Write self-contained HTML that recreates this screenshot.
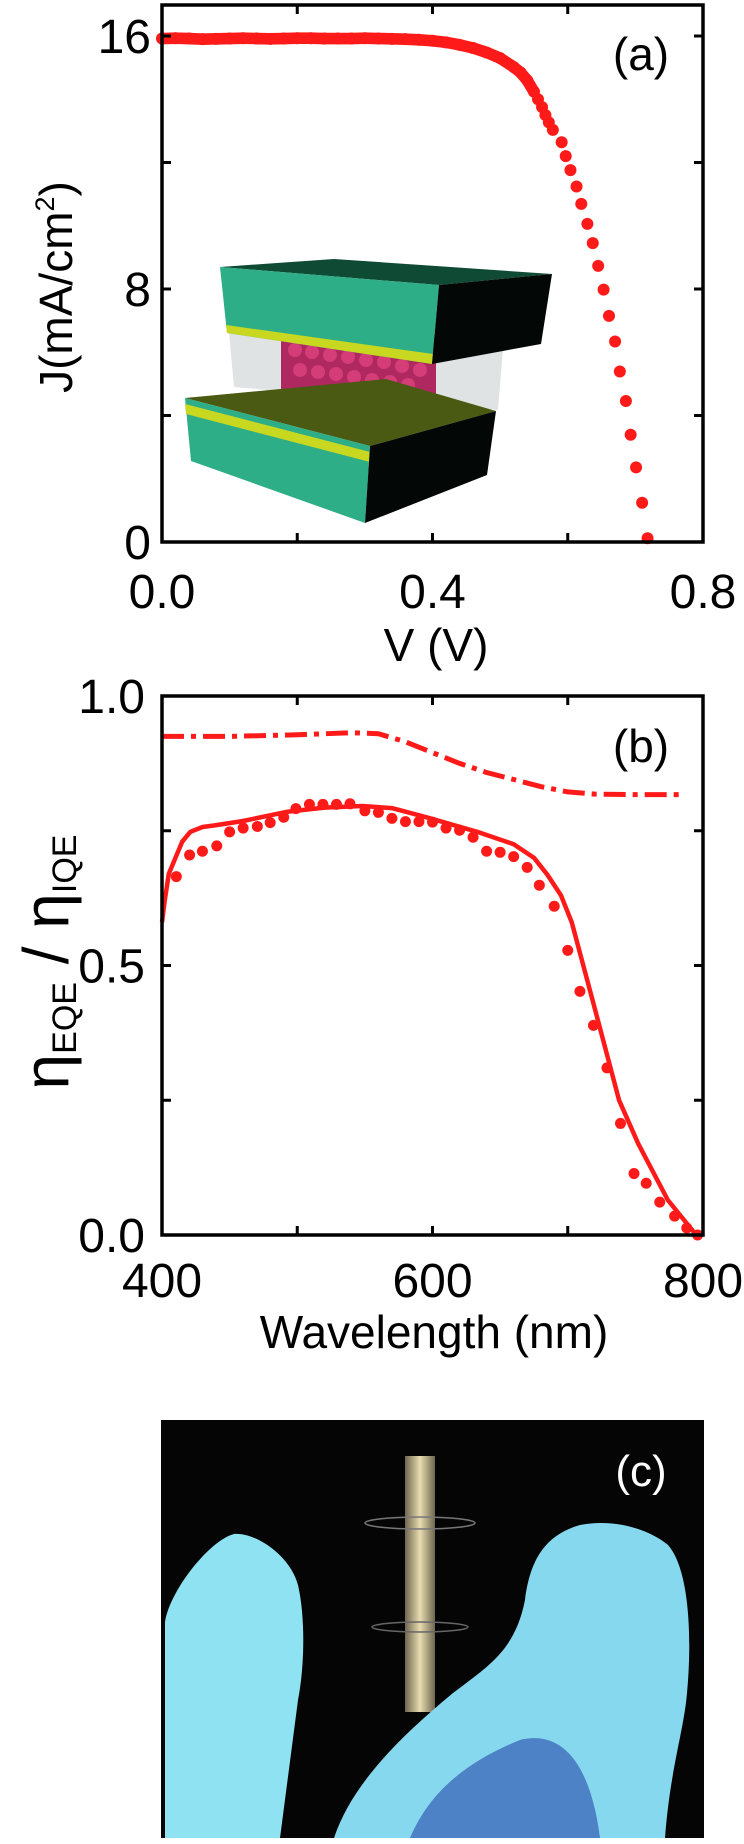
<!DOCTYPE html>
<html><head><meta charset="utf-8"><style>
html,body{margin:0;padding:0;background:#fff;}
svg{display:block;font-family:"Liberation Sans",Arial,sans-serif;}
</style></head><body>
<svg id="fig" width="744" height="1844" viewBox="0 0 744 1844" xmlns="http://www.w3.org/2000/svg">
<defs>
<linearGradient id="rod" x1="0" x2="1" y1="0" y2="0"><stop offset="0" stop-color="#6e6650"/><stop offset="0.5" stop-color="#e8dcb0"/><stop offset="1" stop-color="#6e6650"/></linearGradient>
</defs>
<g id="inset">
<polygon points="229,333 503,349 498,410 234,387" fill="#d8dcdc" opacity="0.8"/>
<rect x="281" y="337" width="155" height="73" fill="#b02860"/>
<g fill="#d8407a" opacity="0.9">
<circle cx="295" cy="350" r="7"/><circle cx="312" cy="352" r="7"/><circle cx="330" cy="355" r="7"/><circle cx="348" cy="357" r="7"/><circle cx="366" cy="360" r="7"/><circle cx="384" cy="362" r="7"/><circle cx="402" cy="366" r="7"/><circle cx="420" cy="370" r="7"/>
<circle cx="300" cy="370" r="7"/><circle cx="318" cy="372" r="7"/><circle cx="336" cy="374" r="7"/><circle cx="354" cy="377" r="7"/><circle cx="372" cy="380" r="7"/><circle cx="390" cy="382" r="7"/><circle cx="408" cy="385" r="7"/>
</g>
<g fill="#4a1020"><circle cx="300" cy="395" r="6"/><circle cx="320" cy="398" r="6"/><circle cx="340" cy="400" r="6"/><circle cx="360" cy="402" r="6"/><circle cx="380" cy="404" r="6"/><circle cx="400" cy="404" r="6"/><circle cx="420" cy="403" r="6"/></g>
<polygon points="220,267 334,259 552,274 439,285" fill="#0e4a34"/>
<polygon points="220,267 439,285 432,364 227,333" fill="#2eae86"/>
<polygon points="226,325 433,354 432,364 227,333" fill="#c8d820"/>
<polygon points="439,285 552,274 541,344 432,364" fill="#030806"/>
<polygon points="185,398 386,379 496,411 370,446" fill="#4a5a12"/>
<polygon points="185,398 370,446 365,523 191,461" fill="#2eae86"/>
<polygon points="185,404 370,452 370,462 186,414" fill="#c8d820"/>
<polygon points="370,446 496,411 487,475 365,523" fill="#030806"/>
</g>
<g id="pa"></g>
<g id="pb"></g>
<g id="photo">
<rect x="161" y="1420" width="543" height="418" fill="#050505"/>
<rect x="405" y="1456" width="30" height="256" fill="url(#rod)"/>
<ellipse cx="420" cy="1523" rx="55" ry="6" fill="none" stroke="#777" stroke-width="1.5"/>
<ellipse cx="420" cy="1627" rx="48" ry="5" fill="none" stroke="#666" stroke-width="1.5"/>
<path d="M165,1622 C170,1590 210,1540 234,1534 C255,1532 290,1555 298,1585 C306,1620 304,1670 298,1700 L280,1838 L165,1838 Z" fill="#8fe2f2"/>
<path d="M334,1838 C350,1790 390,1745 453,1693 C490,1665 515,1650 525,1600 C530,1560 545,1535 580,1525 C615,1518 650,1530 668,1545 C690,1570 692,1640 687,1693 C684,1730 670,1770 665,1838 Z" fill="#86d8ee"/>
<path d="M410,1838 C430,1790 470,1760 520,1740 C560,1730 590,1760 600,1838 Z" fill="#3a66b8" opacity="0.75"/>
<text x="641" y="1486" font-size="44" fill="#fff" text-anchor="middle">(c)</text>
</g>
</svg>
<script>
// Panel (a) data
const jvV = [0,0.02,0.04,0.06,0.08,0.10,0.12,0.14,0.16,0.18,0.20,0.22,0.24,0.26,0.28,0.30,0.32,0.34,0.36,0.38,0.40,0.42,0.44,0.46,0.48,0.50,0.52,0.53,0.54,0.55,0.556,0.562,0.567,0.572,0.578,0.591,0.597,0.604,0.613,0.620,0.629,0.637,0.645,0.653,0.661,0.670,0.677,0.686,0.693,0.701,0.710,0.718];
const jvJ = [15.92,15.93,15.92,15.90,15.91,15.92,15.93,15.92,15.91,15.92,15.93,15.93,15.92,15.92,15.92,15.93,15.92,15.91,15.90,15.88,15.85,15.80,15.72,15.62,15.48,15.30,15.02,14.85,14.6,14.24,14.0,13.75,13.5,13.27,13.03,12.64,12.2,11.76,11.24,10.69,10.06,9.45,8.73,7.98,7.15,6.34,5.39,4.46,3.39,2.36,1.24,0.12];
const aXTicks = ["0.0","0.4","0.8"];
const aXTickVals = [0,0.4,0.8];
const aYTicks = ["0","8","16"];
const aYTickVals = [0,8,16];
// Panel (b) data
const iqeL = [400,450,500,540,560,580,600,620,640,660,680,700,720,750,785];
const iqeV = [0.925,0.925,0.928,0.932,0.93,0.915,0.895,0.875,0.858,0.845,0.832,0.822,0.818,0.817,0.817];
const fitL = [400,402,405,410,415,421,430,439,460,492,520,548,570,597,633,660,675,685,695,703,720,738,752,774,795];
const fitV = [0.58,0.62,0.67,0.70,0.73,0.748,0.757,0.76,0.768,0.785,0.793,0.796,0.792,0.774,0.748,0.725,0.70,0.668,0.63,0.58,0.42,0.25,0.17,0.065,0.0];
const eqeL = [410.6,420.4,429.9,440.5,450,460,470.5,480,490,499,509,519,529,539,550,560,570,580,590,600,610,620,630,640,650,660,670,679,690,700,709,719,729,739,749,758,768,779,788,796];
const eqeV = [0.665,0.705,0.712,0.722,0.748,0.755,0.758,0.765,0.775,0.791,0.799,0.799,0.799,0.800,0.787,0.784,0.773,0.767,0.767,0.766,0.755,0.751,0.738,0.712,0.710,0.702,0.682,0.649,0.610,0.528,0.452,0.389,0.31,0.207,0.114,0.096,0.061,0.035,0.013,0.0];
const bXTicks = ["400","600","800"];
const bXTickVals = [400,600,800];
const bYTicks = ["0.0","0.5","1.0"];
const bYTickVals = [0,0.5,1.0];

const NS="http://www.w3.org/2000/svg";
function mk(parent,tag,attrs){const el=document.createElementNS(NS,tag);for(const k in attrs)el.setAttribute(k,attrs[k]);parent.appendChild(el);return el;}
const RED="#ff1a1a";

// ---- Panel a ----
const pa=document.getElementById('pa');
const ax={l:162,r:703,t:5,b:542};
const axX=v=>ax.l+v/0.8*(ax.r-ax.l);
const ayY=v=>542-(v/16)*(542-36);
for(let i=0;i<29;i++){
  const ln=mk(pa,'line',{x1:axX(jvV[i]),y1:ayY(jvJ[i]),x2:axX(jvV[i+1]),y2:ayY(jvJ[i+1]),stroke:RED,"stroke-width":11.6,"stroke-linecap":"round"});
  
  
}
for(let i=0;i<jvV.length;i++){
  const c=mk(pa,'circle',{cx:axX(jvV[i]),cy:ayY(jvJ[i]),r:6,fill:RED});
  
  
}
const fa=mk(pa,'rect',{x:ax.l,y:ax.t,width:ax.r-ax.l,height:ax.b-ax.t,fill:"none",stroke:"#000","stroke-width":3.5});


[0,0.2,0.4,0.6,0.8].forEach(v=>{
  mk(pa,'line',{x1:axX(v),x2:axX(v),y1:ax.b,y2:ax.b-9,stroke:"#000","stroke-width":3});
  mk(pa,'line',{x1:axX(v),x2:axX(v),y1:ax.t,y2:ax.t+9,stroke:"#000","stroke-width":3});
});
[0,4,8,12,16].forEach(v=>{
  mk(pa,'line',{x1:ax.l,x2:ax.l+9,y1:ayY(v),y2:ayY(v),stroke:"#000","stroke-width":3});
  mk(pa,'line',{x1:ax.r,x2:ax.r-9,y1:ayY(v),y2:ayY(v),stroke:"#000","stroke-width":3});
});
aXTicks.forEach((t,i)=>{
  const el=mk(pa,'text',{x:axX(aXTickVals[i]),y:608,"font-size":48,"text-anchor":"middle"});el.textContent=t;
  
  
});
aYTicks.forEach((t,i)=>{
  const el=mk(pa,'text',{x:151,y:ayY(aYTickVals[i])+17,"font-size":48,"text-anchor":"end"});el.textContent=t;
  
  
});
let t1=mk(pa,'text',{x:436,y:661,"font-size":46,"text-anchor":"middle"});t1.textContent="V (V)";


t1=mk(pa,'text',{x:0,y:0,"font-size":46,"text-anchor":"middle",transform:"translate(72,287) rotate(-90)"});
t1.innerHTML='J(mA/cm<tspan font-size="27" dy="-18">2</tspan><tspan dy="18">)</tspan>';


t1=mk(pa,'text',{x:641,y:70,"font-size":46,"text-anchor":"middle"});t1.textContent="(a)";



// ---- Panel b ----
const pb=document.getElementById('pb');
const bx={l:162,r:703,t:696,b:1235};
const bX=v=>bx.l+(v-400)/400*(bx.r-bx.l);
const bY=v=>bx.b-v*(bx.b-bx.t);
let d=iqeL.map((l,i)=>(i?'L':'M')+bX(l).toFixed(1)+','+bY(iqeV[i]).toFixed(1)).join(' ');
let p=mk(pb,'path',{d:d,fill:"none",stroke:RED,"stroke-width":5,"stroke-dasharray":"22,7,5,7"});


d=fitL.map((l,i)=>(i?'L':'M')+bX(l).toFixed(1)+','+bY(fitV[i]).toFixed(1)).join(' ');
p=mk(pb,'path',{d:d,fill:"none",stroke:RED,"stroke-width":4.5,"stroke-linejoin":"round"});


eqeL.forEach((l,i)=>{
  const c=mk(pb,'circle',{cx:bX(l),cy:bY(eqeV[i]),r:5.5,fill:RED});
  
  
});
const fb=mk(pb,'rect',{x:bx.l,y:bx.t,width:bx.r-bx.l,height:bx.b-bx.t,fill:"none",stroke:"#000","stroke-width":3.5});


[400,500,600,700,800].forEach(v=>{
  mk(pb,'line',{x1:bX(v),x2:bX(v),y1:bx.b,y2:bx.b-9,stroke:"#000","stroke-width":3});
  mk(pb,'line',{x1:bX(v),x2:bX(v),y1:bx.t,y2:bx.t+9,stroke:"#000","stroke-width":3});
});
[0,0.25,0.5,0.75,1].forEach(v=>{
  mk(pb,'line',{x1:bx.l,x2:bx.l+9,y1:bY(v),y2:bY(v),stroke:"#000","stroke-width":3});
  mk(pb,'line',{x1:bx.r,x2:bx.r-9,y1:bY(v),y2:bY(v),stroke:"#000","stroke-width":3});
});
bXTicks.forEach((t,i)=>{
  const el=mk(pb,'text',{x:bX(bXTickVals[i]),y:1297,"font-size":48,"text-anchor":"middle"});el.textContent=t;
  
  
});
bYTicks.forEach((t,i)=>{
  const el=mk(pb,'text',{x:145,y:bY(bYTickVals[i])+17,"font-size":48,"text-anchor":"end"});el.textContent=t;
  
  
});
t1=mk(pb,'text',{x:434,y:1348,"font-size":46,"text-anchor":"middle"});t1.textContent="Wavelength (nm)";


t1=mk(pb,'text',{x:0,y:0,"font-size":64,"text-anchor":"middle",transform:"translate(68,962) rotate(-90)"});
t1.innerHTML='η<tspan font-size="34" dy="8">EQE</tspan><tspan dy="-8"> / η</tspan><tspan font-size="34" dy="8">IQE</tspan>';


t1=mk(pb,'text',{x:641,y:762,"font-size":46,"text-anchor":"middle"});t1.textContent="(b)";


</script>
</body></html>
